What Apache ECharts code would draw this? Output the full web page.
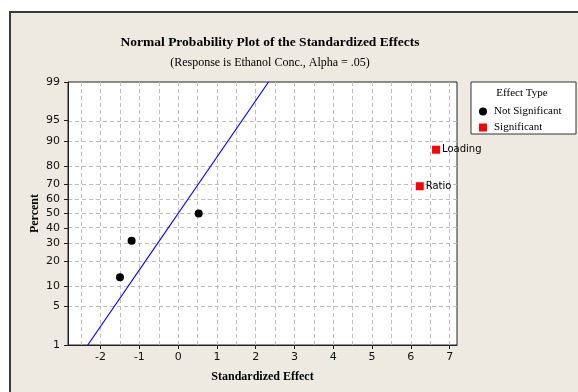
<!DOCTYPE html>
<html>
<head>
<meta charset="utf-8">
<script src="https://cdn.jsdelivr.net/npm/echarts@6/dist/echarts.min.js"></script>
<style>
    html, body { margin: 0; padding: 0; background: #fff; }
    #chart { width: 578px; height: 392px; }
</style>
</head>
<body>
<div id="chart"></div>
<script>
    // effects (standardized effect, percent)
    var notSigNames = ['A', 'B', 'C'];
    var notSigEffect = [-1.50, -1.20, 0.53];
    var notSigPct = [12.96, 31.48, 50.0];
    var sigNames = ['Ratio', 'Loading'];
    var sigEffect = [6.23, 6.65];
    var sigPct = [68.52, 87.04];
    // reference line end points
    var lineEffect = [-2.33, 2.33];
    var linePct = [1, 99];
    // axis ticks
    var xTicks = [-2, -1, 0, 1, 2, 3, 4, 5, 6, 7];
    var xGrid = [-2.5, -2, -1.5, -1, -0.5, 0, 0.5, 1, 1.5, 2, 2.5, 3, 3.5, 4, 4.5, 5, 5.5, 6, 6.5, 7];
    var pctTicks = [1, 5, 10, 20, 30, 40, 50, 60, 70, 80, 90, 95, 99];

    // inverse normal cdf (Acklam)
    function normInv(p) {
        var a = [-3.969683028665376e+01, 2.209460984245205e+02, -2.759285104469687e+02, 1.383577518672690e+02, -3.066479806614716e+01, 2.506628277459239e+00];
        var b = [-5.447609879822406e+01, 1.615858368580409e+02, -1.556989798598866e+02, 6.680131188771972e+01, -1.328068155288572e+01];
        var c = [-7.784894002430293e-03, -3.223964580411365e-01, -2.400758277161838e+00, -2.549732539343734e+00, 4.374664141464968e+00, 2.938163982698783e+00];
        var d = [7.784695709041462e-03, 3.224671290700398e-01, 2.445134137142996e+00, 3.754408661907416e+00];
        var pl = 0.02425, q, r;
        if (p < pl) {
            q = Math.sqrt(-2 * Math.log(p));
            return (((((c[0]*q+c[1])*q+c[2])*q+c[3])*q+c[4])*q+c[5]) / ((((d[0]*q+d[1])*q+d[2])*q+d[3])*q+1);
        }
        if (p > 1 - pl) {
            q = Math.sqrt(-2 * Math.log(1 - p));
            return -(((((c[0]*q+c[1])*q+c[2])*q+c[3])*q+c[4])*q+c[5]) / ((((d[0]*q+d[1])*q+d[2])*q+d[3])*q+1);
        }
        q = p - 0.5; r = q * q;
        return (((((a[0]*r+a[1])*r+a[2])*r+a[3])*r+a[4])*r+a[5])*q / (((((b[0]*r+b[1])*r+b[2])*r+b[3])*r+b[4])*r+1);
    }
    function z(pct) { return normInv(pct / 100); }

    var zTicks = pctTicks.map(z);
    var yMax = z(99), yMin = z(1);
    var gridLine = {color: '#bdbdbd', width: 1, type: [4, 3]};

    var myChart = echarts.init(document.getElementById('chart'));
    var option = {
        animation: false,
        textStyle: {fontFamily: 'DejaVu Sans'},
        graphic: [
            {type: 'rect', z: -10, shape: {x: 10, y: 12, width: 600, height: 420},
                style: {fill: '#eeeae1', stroke: '#3a3a3a', lineWidth: 2}},
            {type: 'rect', z: 10, shape: {x: 471, y: 82, width: 105, height: 52},
                style: {fill: '#fff', stroke: '#333', lineWidth: 1}},
            {type: 'text', z: 11, x: 522, y: 93,
                style: {text: 'Effect Type', fill: '#000', font: '11px "Liberation Serif"', align: 'center', verticalAlign: 'middle'}}
        ],
        title: {
            text: 'Normal Probability Plot of the Standardized Effects',
            subtext: '(Response is Ethanol Conc., Alpha = .05)',
            left: 265, top: 31, textAlign: 'center', itemGap: 7,
            textStyle: {fontFamily: 'Liberation Serif', fontSize: 13.5, fontWeight: 'bold', color: '#000'},
            subtextStyle: {fontFamily: 'Liberation Serif', fontSize: 12, color: '#000'}
        },
        legend: {
            z: 12, orient: 'vertical', left: 474, top: 101, itemGap: 5,
            itemWidth: 8, itemHeight: 8,
            data: ['Not Significant', 'Significant'],
            textStyle: {fontFamily: 'Liberation Serif', fontSize: 11, color: '#000', padding: [0, 0, 0, 2]}
        },
        grid: {
            left: 68, right: 121, top: 82, bottom: 47,
            show: true, backgroundColor: '#fff', borderColor: '#222', borderWidth: 1
        },
        xAxis: {
            type: 'value', min: -2.84, max: 7.19,
            name: 'Standardized Effect', nameLocation: 'middle', nameGap: 26, nameMoveOverlap: false,
            nameTextStyle: {fontFamily: 'Liberation Serif', fontWeight: 'bold', fontSize: 12, color: '#000'},
            axisLine: {show: true, onZero: false, lineStyle: {color: '#222'}},
            axisTick: {show: true, length: 4, customValues: xTicks, lineStyle: {color: '#222'}},
            axisLabel: {customValues: xTicks, margin: 7, fontSize: 11, color: '#111'},
            splitLine: {show: false}
        },
        yAxis: {
            type: 'value', min: yMin, max: yMax,
            name: 'Percent', nameLocation: 'middle', nameGap: 27, nameRotate: 90, nameMoveOverlap: false,
            nameTextStyle: {fontFamily: 'Liberation Serif', fontWeight: 'bold', fontSize: 12, color: '#000'},
            axisLine: {show: true, onZero: false, lineStyle: {color: '#222'}},
            axisTick: {show: true, length: 4, customValues: zTicks, lineStyle: {color: '#222'}},
            axisLabel: {
                customValues: zTicks, margin: 8, fontSize: 11, color: '#111',
                formatter: function (v) {
                    for (var i = 0; i < zTicks.length; i++) {
                        if (Math.abs(zTicks[i] - v) < 1e-6) return pctTicks[i];
                    }
                    return '';
                }
            },
            splitLine: {show: false}
        },
        series: [{
            name: 'grid', type: 'line', data: [], silent: true, z: 0, zlevel: 0,
            markLine: {
                silent: true, symbol: 'none', label: {show: false}, animation: false, z: 0,
                lineStyle: gridLine,
                data: xGrid.map(function (v) { return {xAxis: v}; })
                    .concat(zTicks.slice(1, -1).map(function (v) { return {yAxis: v}; }))
            }
        }, {
            name: 'line', type: 'line', symbol: 'none', silent: true, z: 3,
            lineStyle: {color: '#0000ff', width: 1.2},
            data: lineEffect.map(function (x, i) { return [x, z(linePct[i])]; })
        }, {
            name: 'Not Significant', type: 'scatter', symbol: 'circle', symbolSize: 8, z: 5,
            itemStyle: {color: '#000', opacity: 1},
            data: notSigEffect.map(function (x, i) { return {name: notSigNames[i], value: [x, z(notSigPct[i])]}; })
        }, {
            name: 'Significant', type: 'scatter', symbol: 'rect', symbolSize: 8, z: 5,
            itemStyle: {color: '#ff0000', opacity: 1},
            label: {show: true, position: 'right', distance: 2, formatter: '{b}', fontFamily: 'DejaVu Sans', fontSize: 10, color: '#000'},
            data: sigEffect.map(function (x, i) { return {name: sigNames[i], value: [x, z(sigPct[i])]}; })
        }]
    };
    myChart.setOption(option);
</script>
</body>
</html>
